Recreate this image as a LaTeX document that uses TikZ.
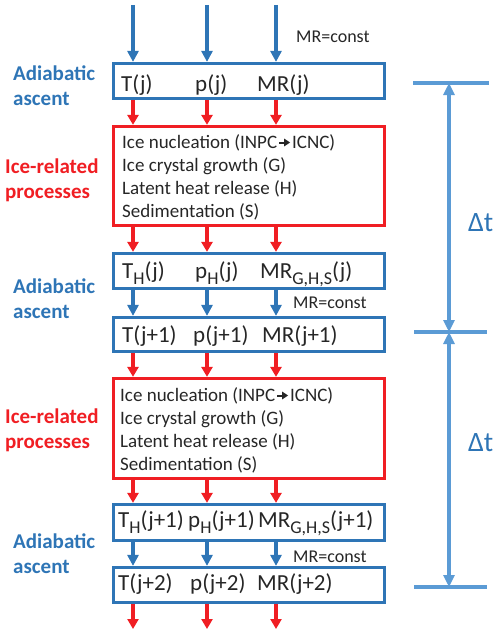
\documentclass[tikz,border=0pt]{standalone}
\usepackage{fontspec}
\setmainfont{Carlito}
\usetikzlibrary{arrows.meta}
\definecolor{bl}{HTML}{2E75B6}
\definecolor{lbl}{HTML}{5B9BD5}
\definecolor{rd}{HTML}{F01E23}
\definecolor{tx}{HTML}{262626}
\newcommand\lowr[1]{\raisebox{-6pt}{\fontsize{18}{18}\selectfont #1}}
\newcommand\smallarr{\tikz[baseline=-5.5pt]\draw[line width=2pt,-{Triangle[length=6pt,width=7.5pt]}] (0,0)--(11pt,0);}
\begin{document}
\begin{tikzpicture}[x=1pt,y=-1pt,
  bbox/.style={draw=bl,line width=3.2pt,minimum width=271pt,inner sep=0pt},
  rbox/.style={draw=rd,line width=3.2pt,minimum width=271pt,inner sep=0pt},
  val/.style={anchor=base west,inner sep=0pt,text=tx,font=\fontsize{23}{27}\selectfont},
  proc/.style={anchor=base west,inner sep=0pt,text=tx,font=\fontsize{19}{23}\selectfont},
  mrc/.style={anchor=base west,inner sep=0pt,text=tx,font=\fontsize{18}{22}\selectfont},
  lab/.style={anchor=base west,inner sep=0pt,font=\bfseries\fontsize{21}{25}\selectfont},
  barr/.style={draw=bl,line width=3.2pt,-{Triangle[length=11pt,width=11pt]}},
  rarr/.style={draw=rd,line width=3.2pt,-{Triangle[length=10pt,width=11pt]}},
  dline/.style={draw=lbl,line width=3.2pt},
  darr/.style={draw=lbl,line width=3.2pt,{Triangle[length=12pt,width=11pt]}-{Triangle[length=12pt,width=11pt]}},
  dt/.style={anchor=base west,inner sep=0pt,text=bl,font=\fontsize{28}{30}\selectfont}]
\useasboundingbox (0,0) rectangle (500,634);
% boxes
\node[bbox,minimum height=35pt] (b1) at (249,81) {};
\node[rbox,minimum height=99pt] (r1) at (249,176) {};
\node[bbox,minimum height=35pt] (b2) at (249,271) {};
\node[bbox,minimum height=34pt] (b3) at (249,334.5) {};
\node[rbox,minimum height=100pt] (r2) at (249,428.5) {};
\node[bbox,minimum height=36pt] (b4) at (249,522.5) {};
\node[bbox,minimum height=35pt] (b5) at (249,585) {};
% column coordinates
\coordinate (c1) at (133,0);
\coordinate (c2) at (207,0);
\coordinate (c3) at (276,0);
\coordinate (t1) at (133,5);
\coordinate (t2) at (207,5);
\coordinate (t3) at (276,5);
\coordinate (e1) at (133,629);
\coordinate (e2) at (207,629);
\coordinate (e3) at (276,629);
% arrows
\foreach \c in {1,2,3}{
  \draw[barr] (t\c) -- (t\c |- b1.north);
  \draw[rarr] (c\c |- b1.south) -- (c\c |- r1.north);
  \draw[rarr] (c\c |- r1.south) -- (c\c |- b2.north);
  \draw[barr] (c\c |- b2.south) -- (c\c |- b3.north);
  \draw[rarr] (c\c |- b3.south) -- (c\c |- r2.north);
  \draw[rarr] (c\c |- r2.south) -- (c\c |- b4.north);
  \draw[barr] (c\c |- b4.south) -- (c\c |- b5.north);
  \draw[rarr] (c\c |- b5.south) -- (e\c);
}
% box texts
\node[val] (v11) at (121,92) {T(j)};
\node[val] (v12) at (195,92) {p(j)};
\node[val] (v13) at (257,92) {MR(j)};
\node[val] (v21) at (122,278) {T\lowr{H}(j)};
\node[val] (v22) at (195,278) {p\lowr{H}(j)};
\node[val] (v23) at (260,278) {MR\lowr{G,H,S}(j)};
\node[val] (v31) at (122,342) {T(j+1)};
\node[val] (v32) at (193,342) {p(j+1)};
\node[val] (v33) at (262,342) {MR(j+1)};
\node[val] (v41) at (118,527) {T\lowr{H}(j+1)};
\node[val] (v42) at (188,527) {p\lowr{H}(j+1)};
\node[val] (v43) at (258,527) {MR\lowr{G,H,S}(j+1)};
\node[val] (v51) at (118,590) {T(j+2)};
\node[val] (v52) at (190,590) {p(j+2)};
\node[val] (v53) at (257,590) {MR(j+2)};
% process texts
\node[proc] (p11) at (122,148) {Ice nucleation (INPC\hspace{1pt}\smallarr\hspace{1pt}ICNC)};
\node[proc] (p12) at (122,171) {Ice crystal growth (G)};
\node[proc] (p13) at (122,194) {Latent heat release (H)};
\node[proc] (p14) at (122,217) {Sedimentation (S)};
\node[proc] (p21) at (120,401) {Ice nucleation (INPC\hspace{1pt}\smallarr\hspace{1pt}ICNC)};
\node[proc] (p22) at (120,424) {Ice crystal growth (G)};
\node[proc] (p23) at (120,447) {Latent heat release (H)};
\node[proc] (p24) at (120,470) {Sedimentation (S)};
% MR=const
\node[mrc] (m1) at (296,42) {MR=const};
\node[mrc] (m2) at (293,308) {MR=const};
\node[mrc] (m3) at (293,562) {MR=const};
% left labels
\node[lab,text=bl] (a1) at (13,81) {Adiabatic};
\node[lab,text=bl] (a1b) at (13,105) {ascent};
\node[lab,text=rd] (i1) at (5,173) {Ice-related};
\node[lab,text=rd] (i1b) at (5,198) {processes};
\node[lab,text=bl] (a2) at (13,293) {Adiabatic};
\node[lab,text=bl] (a2b) at (13,318) {ascent};
\node[lab,text=rd] (i2) at (5,423) {Ice-related};
\node[lab,text=rd] (i2b) at (5,448) {processes};
\node[lab,text=bl] (a3) at (13,548) {Adiabatic};
\node[lab,text=bl] (a3b) at (13,573) {ascent};
% time dimension
\coordinate (h1l) at (413,83);  \coordinate (h1r) at (489,83);
\coordinate (h2l) at (414,332); \coordinate (h2r) at (487,332);
\coordinate (h3l) at (414,587); \coordinate (h3r) at (487,587);
\coordinate (d1) at (449,83);
\coordinate (d2) at (449,332);
\coordinate (d3) at (449,587);
\draw[dline] (h1l) -- (h1r);
\draw[dline] (h2l) -- (h2r);
\draw[dline] (h3l) -- (h3r);
\draw[darr] (d1) -- (d2);
\draw[darr] (d2) -- (d3);
\node[dt] (dt1) at (468,231) {Δt};
\node[dt] (dt2) at (468,451) {Δt};
\end{tikzpicture}
\end{document}
